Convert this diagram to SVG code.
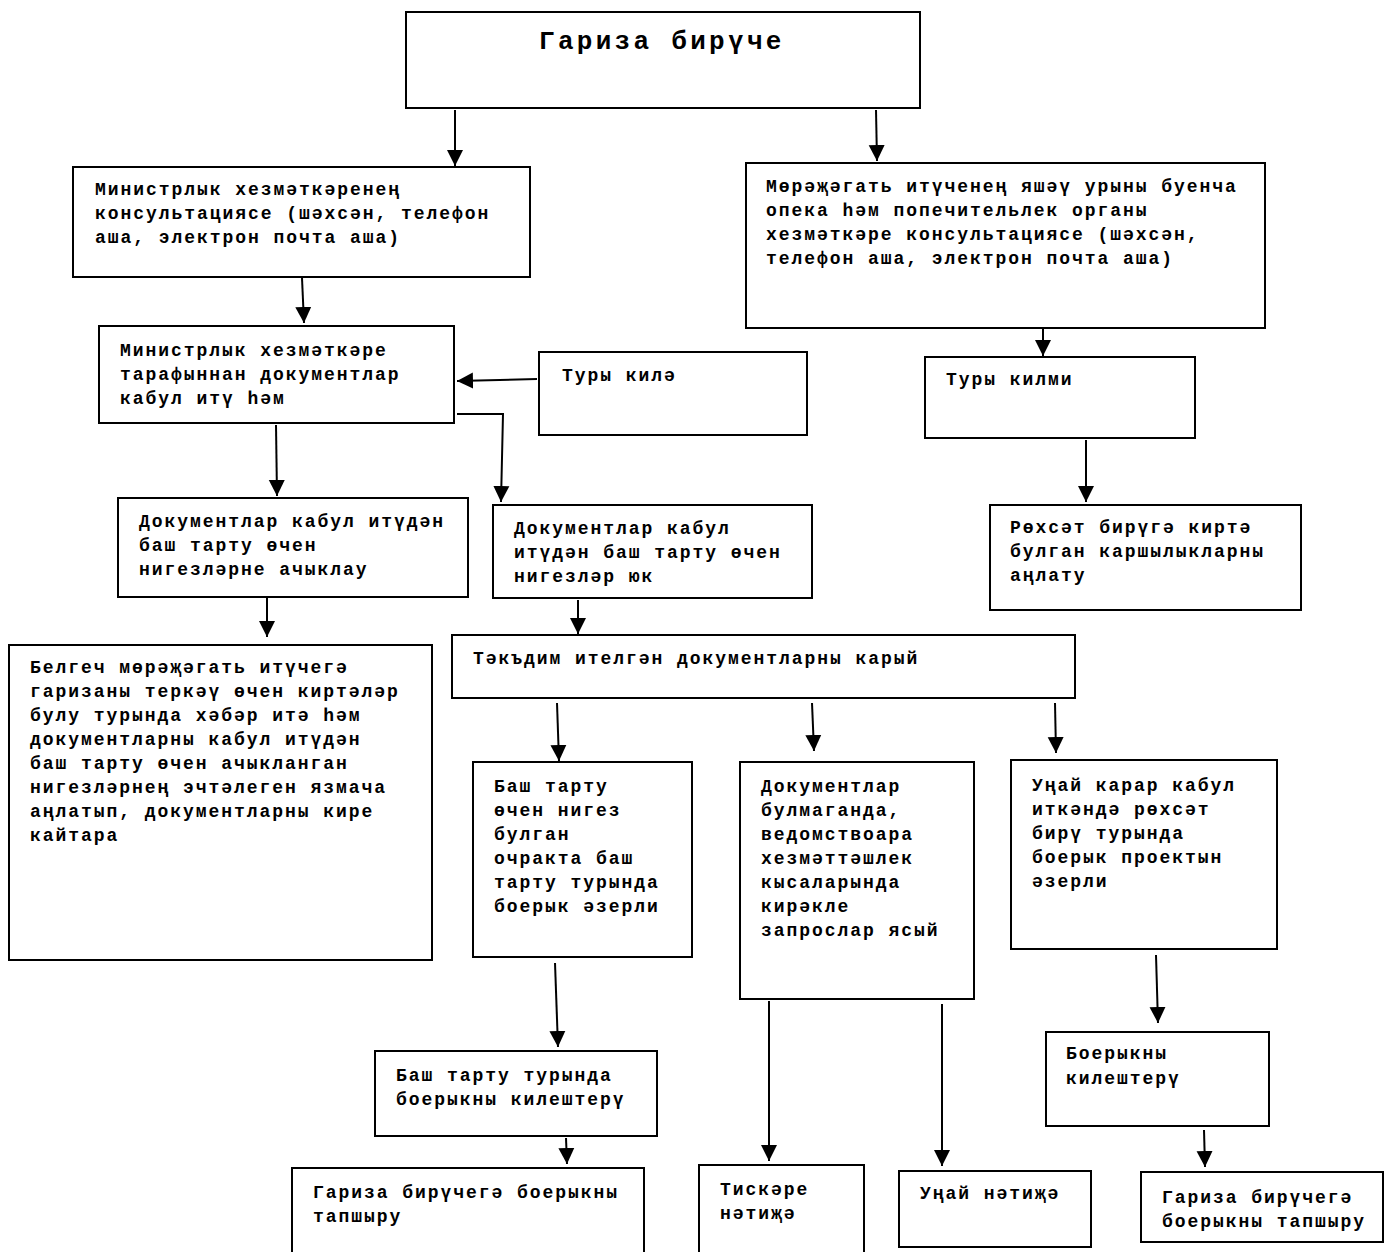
<svg xmlns="http://www.w3.org/2000/svg" width="1389" height="1252" viewBox="0 0 1389 1252">
<style>
.b{fill:#fff;stroke:#000;stroke-width:2}
.t{font-family:"Liberation Mono","Courier New",monospace;font-weight:bold;font-size:18px;letter-spacing:1.95px;fill:#000}
.h{font-size:26px;letter-spacing:3.3px}
.c{stroke:#000;stroke-width:2;fill:none}
</style>
<defs>
<marker id="a" markerUnits="userSpaceOnUse" markerWidth="16" markerHeight="18" refX="16" refY="8" orient="auto" viewBox="0 0 16 16">
<path d="M0,0 L16,8 L0,16 Z" fill="#000"/>
</marker>
</defs>
<rect width="1389" height="1252" fill="#fff"/>
<g id="connectors">
<line class="c" x1="455" y1="110" x2="455" y2="166" marker-end="url(#a)"/>
<line class="c" x1="876" y1="110" x2="877" y2="161" marker-end="url(#a)"/>
<line class="c" x1="302" y1="278" x2="304" y2="323" marker-end="url(#a)"/>
<line class="c" x1="1043" y1="327" x2="1043" y2="356" marker-end="url(#a)"/>
<line class="c" x1="537" y1="379" x2="457" y2="381" marker-end="url(#a)"/>
<line class="c" x1="276" y1="425" x2="277" y2="496" marker-end="url(#a)"/>
<polyline class="c" points="457,414 503,414 501,502" marker-end="url(#a)"/>
<line class="c" x1="1086" y1="440" x2="1086" y2="502" marker-end="url(#a)"/>
<line class="c" x1="267" y1="598" x2="267" y2="637" marker-end="url(#a)"/>
<line class="c" x1="578" y1="600" x2="578" y2="634" marker-end="url(#a)"/>
<line class="c" x1="557" y1="703" x2="559" y2="761" marker-end="url(#a)"/>
<line class="c" x1="812" y1="703" x2="814" y2="751" marker-end="url(#a)"/>
<line class="c" x1="1055" y1="703" x2="1056" y2="753" marker-end="url(#a)"/>
<line class="c" x1="555" y1="963" x2="558" y2="1047" marker-end="url(#a)"/>
<line class="c" x1="566" y1="1138" x2="567" y2="1164" marker-end="url(#a)"/>
<line class="c" x1="769" y1="1001" x2="769" y2="1161" marker-end="url(#a)"/>
<line class="c" x1="942" y1="1004" x2="942" y2="1166" marker-end="url(#a)"/>
<line class="c" x1="1156" y1="955" x2="1158" y2="1023" marker-end="url(#a)"/>
<line class="c" x1="1204" y1="1130" x2="1205" y2="1167" marker-end="url(#a)"/>
</g>
<g id="n1"><rect class="b" x="406" y="12" width="514" height="96"/><text class="t h" x="539" y="49">Гариза бирүче</text></g>
<g id="n2"><rect class="b" x="73" y="167" width="457" height="110"/>
<text class="t" x="95" y="195">Министрлык хезмәткәренең</text>
<text class="t" x="95" y="219">консультациясе (шәхсән, телефон</text>
<text class="t" x="95" y="243">аша, электрон почта аша)</text></g>
<g id="n3"><rect class="b" x="746" y="163" width="519" height="165"/>
<text class="t" x="766" y="192">Мөрәҗәгать итүченең яшәү урыны буенча</text>
<text class="t" x="766" y="216">опека һәм попечительлек органы</text>
<text class="t" x="766" y="240">хезмәткәре консультациясе (шәхсән,</text>
<text class="t" x="766" y="264">телефон аша, электрон почта аша)</text></g>
<g id="n4"><rect class="b" x="99" y="326" width="355" height="97"/>
<text class="t" x="120" y="356">Министрлык хезмәткәре</text>
<text class="t" x="120" y="380">тарафыннан документлар</text>
<text class="t" x="120" y="404">кабул итү һәм</text></g>
<g id="n5"><rect class="b" x="539" y="352" width="268" height="83"/>
<text class="t" x="562" y="381">Туры килә</text></g>
<g id="n6"><rect class="b" x="925" y="357" width="270" height="81"/>
<text class="t" x="946" y="385">Туры килми</text></g>
<g id="n7"><rect class="b" x="118" y="498" width="350" height="99"/>
<text class="t" x="139" y="527">Документлар кабул итүдән</text>
<text class="t" x="139" y="551">баш тарту өчен</text>
<text class="t" x="139" y="575">нигезләрне ачыклау</text></g>
<g id="n8"><rect class="b" x="493" y="505" width="319" height="93"/>
<text class="t" x="514" y="534">Документлар кабул</text>
<text class="t" x="514" y="558">итүдән баш тарту өчен</text>
<text class="t" x="514" y="582">нигезләр юк</text></g>
<g id="n9"><rect class="b" x="990" y="505" width="311" height="105"/>
<text class="t" x="1010" y="533">Рөхсәт бирүгә киртә</text>
<text class="t" x="1010" y="557">булган каршылыкларны</text>
<text class="t" x="1010" y="581">аңлату</text></g>
<g id="n10"><rect class="b" x="452" y="635" width="623" height="63"/>
<text class="t" x="473" y="664">Тәкъдим ителгән документларны карый</text></g>
<g id="n11"><rect class="b" x="9" y="645" width="423" height="315"/>
<text class="t" x="30" y="673">Белгеч мөрәҗәгать итүчегә</text>
<text class="t" x="30" y="697">гаризаны теркәү өчен киртәләр</text>
<text class="t" x="30" y="721">булу турында хәбәр итә һәм</text>
<text class="t" x="30" y="745">документларны кабул итүдән</text>
<text class="t" x="30" y="769">баш тарту өчен ачыкланган</text>
<text class="t" x="30" y="793">нигезләрнең эчтәлеген язмача</text>
<text class="t" x="30" y="817">аңлатып, документларны кире</text>
<text class="t" x="30" y="841">кайтара</text></g>
<g id="n12"><rect class="b" x="473" y="762" width="219" height="195"/>
<text class="t" x="494" y="792">Баш тарту</text>
<text class="t" x="494" y="816">өчен нигез</text>
<text class="t" x="494" y="840">булган</text>
<text class="t" x="494" y="864">очракта баш</text>
<text class="t" x="494" y="888">тарту турында</text>
<text class="t" x="494" y="912">боерык әзерли</text></g>
<g id="n13"><rect class="b" x="740" y="762" width="234" height="237"/>
<text class="t" x="761" y="792">Документлар</text>
<text class="t" x="761" y="816">булмаганда,</text>
<text class="t" x="761" y="840">ведомствоара</text>
<text class="t" x="761" y="864">хезмәттәшлек</text>
<text class="t" x="761" y="888">кысаларында</text>
<text class="t" x="761" y="912">кирәкле</text>
<text class="t" x="761" y="936">запрослар ясый</text></g>
<g id="n14"><rect class="b" x="1011" y="760" width="266" height="189"/>
<text class="t" x="1032" y="791">Уңай карар кабул</text>
<text class="t" x="1032" y="815">иткәндә рөхсәт</text>
<text class="t" x="1032" y="839">бирү турында</text>
<text class="t" x="1032" y="863">боерык проектын</text>
<text class="t" x="1032" y="887">әзерли</text></g>
<g id="n15"><rect class="b" x="375" y="1051" width="282" height="85"/>
<text class="t" x="396" y="1081">Баш тарту турында</text>
<text class="t" x="396" y="1105">боерыкны килештерү</text></g>
<g id="n16"><rect class="b" x="1046" y="1032" width="223" height="94"/>
<text class="t" x="1066" y="1059">Боерыкны</text>
<text class="t" x="1066" y="1084">килештерү</text></g>
<g id="n17"><path class="b" d="M292,1253 V1168 H644 V1253"/>
<text class="t" x="313" y="1198">Гариза бирүчегә боерыкны</text>
<text class="t" x="313" y="1222">тапшыру</text></g>
<g id="n18"><path class="b" d="M699,1253 V1165 H864 V1253"/>
<text class="t" x="720" y="1195">Тискәре</text>
<text class="t" x="720" y="1219">нәтиҗә</text></g>
<g id="n19"><rect class="b" x="899" y="1171" width="192" height="76"/>
<text class="t" x="920" y="1199">Уңай нәтиҗә</text></g>
<g id="n20"><rect class="b" x="1141" y="1172" width="242" height="70"/>
<text class="t" x="1162" y="1203">Гариза бирүчегә</text>
<text class="t" x="1162" y="1227">боерыкны тапшыру</text></g>
</svg>
